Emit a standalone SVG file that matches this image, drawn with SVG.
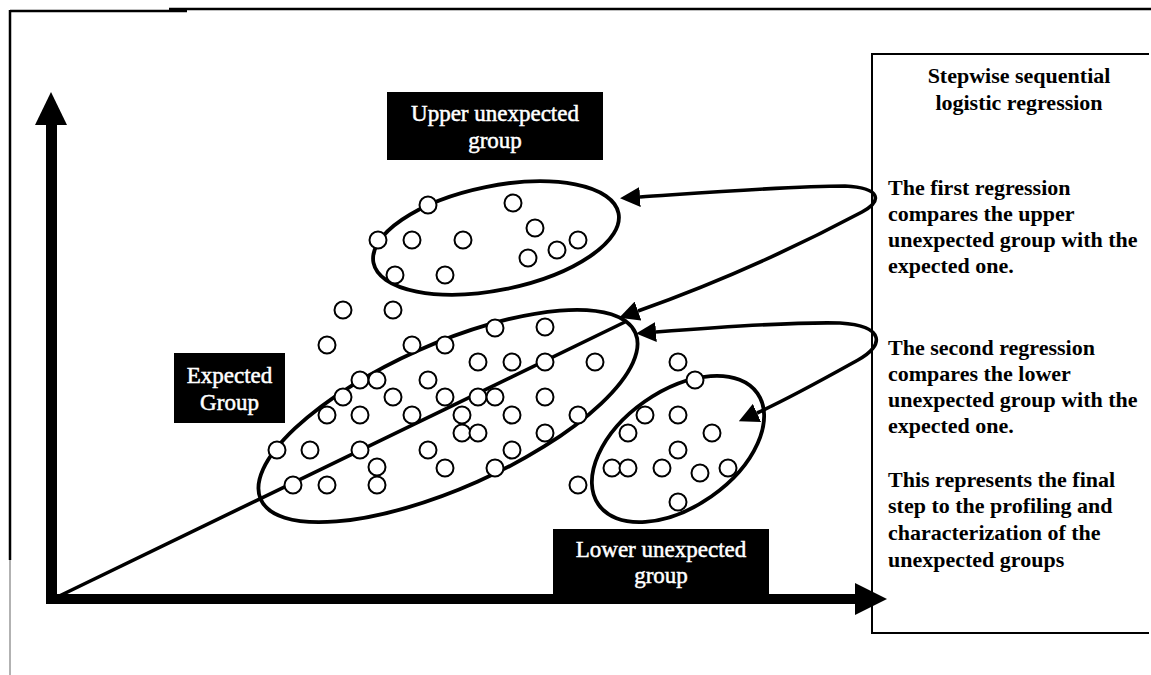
<svg xmlns="http://www.w3.org/2000/svg" width="1151" height="675" viewBox="0 0 1151 675">
<style>
.frame{stroke:#000;stroke-width:2.5;fill:none}
.pt{fill:#fff;stroke:#000;stroke-width:2}
.grp{fill:none;stroke:#000;stroke-width:3.8}
.conn{fill:none;stroke:#000;stroke-width:3.6}
.lbl{fill:#fff;stroke:#fff;stroke-width:0.5;font-family:"Liberation Serif",serif;font-size:23px;text-anchor:middle}
.box{fill:#000}
.ptxt{fill:#000;font-family:"Liberation Serif",serif;font-weight:bold;font-size:22px}
</style>
<defs>
<marker id="ah" markerUnits="userSpaceOnUse" viewBox="0 0 20 20" refX="0" refY="10" markerWidth="20" markerHeight="20" orient="auto-start-reverse">
<path d="M0,0 L20,10 L0,20 z" fill="#000"/>
</marker>
</defs>
<rect width="1151" height="675" fill="#fff"/>
<g id="frame">
<line class="frame" x1="10" y1="11" x2="187" y2="11"/>
<line class="frame" x1="169" y1="9" x2="1151" y2="9"/>
<line class="frame" x1="10" y1="10" x2="10" y2="560"/>
<line x1="10" y1="560" x2="10" y2="675" stroke="#999" stroke-width="1.5"/>
</g>
<g id="axes">
<rect x="46" y="124" width="11" height="480" fill="#000"/>
<polygon points="51,92 35,125 67,125" fill="#000"/>
<rect x="46" y="594" width="811" height="10" fill="#000"/>
<polygon points="855,583 887,599 855,615" fill="#000"/>
<line x1="51" y1="600" x2="627" y2="321" stroke="#000" stroke-width="3.6"/>
</g>
<g id="upper-group">
<ellipse class="grp" cx="496" cy="238" rx="125" ry="52" transform="rotate(-11.5 496 238)"/>
<circle class="pt" cx="428" cy="205" r="8.5"/><circle class="pt" cx="378" cy="240" r="8.5"/><circle class="pt" cx="412" cy="240" r="8.5"/><circle class="pt" cx="463" cy="240" r="8.5"/><circle class="pt" cx="513" cy="203" r="8.5"/><circle class="pt" cx="535" cy="228" r="8.5"/><circle class="pt" cx="528" cy="258" r="8.5"/><circle class="pt" cx="557" cy="250" r="8.5"/><circle class="pt" cx="578" cy="240" r="8.5"/><circle class="pt" cx="395" cy="275" r="8.5"/><circle class="pt" cx="445" cy="275" r="8.5"/>
</g>
<g id="expected-group">
<ellipse class="grp" cx="448" cy="416" rx="205" ry="72" transform="rotate(-24 448 416)"/>
<circle class="pt" cx="343" cy="310" r="8.5"/><circle class="pt" cx="393" cy="310" r="8.5"/><circle class="pt" cx="327" cy="345" r="8.5"/><circle class="pt" cx="412" cy="345" r="8.5"/><circle class="pt" cx="445" cy="345" r="8.5"/><circle class="pt" cx="495" cy="328" r="8.5"/><circle class="pt" cx="545" cy="327" r="8.5"/><circle class="pt" cx="478" cy="362" r="8.5"/><circle class="pt" cx="512" cy="362" r="8.5"/><circle class="pt" cx="545" cy="362" r="8.5"/><circle class="pt" cx="595" cy="362" r="8.5"/><circle class="pt" cx="360" cy="380" r="8.5"/><circle class="pt" cx="377" cy="380" r="8.5"/><circle class="pt" cx="428" cy="380" r="8.5"/><circle class="pt" cx="343" cy="397" r="8.5"/><circle class="pt" cx="393" cy="397" r="8.5"/><circle class="pt" cx="445" cy="397" r="8.5"/><circle class="pt" cx="478" cy="397" r="8.5"/><circle class="pt" cx="495" cy="397" r="8.5"/><circle class="pt" cx="545" cy="397" r="8.5"/><circle class="pt" cx="327" cy="415" r="8.5"/><circle class="pt" cx="360" cy="415" r="8.5"/><circle class="pt" cx="412" cy="415" r="8.5"/><circle class="pt" cx="462" cy="415" r="8.5"/><circle class="pt" cx="512" cy="415" r="8.5"/><circle class="pt" cx="578" cy="415" r="8.5"/><circle class="pt" cx="462" cy="433" r="8.5"/><circle class="pt" cx="478" cy="433" r="8.5"/><circle class="pt" cx="545" cy="433" r="8.5"/><circle class="pt" cx="277" cy="450" r="8.5"/><circle class="pt" cx="310" cy="450" r="8.5"/><circle class="pt" cx="360" cy="450" r="8.5"/><circle class="pt" cx="428" cy="450" r="8.5"/><circle class="pt" cx="512" cy="450" r="8.5"/><circle class="pt" cx="377" cy="467" r="8.5"/><circle class="pt" cx="445" cy="468" r="8.5"/><circle class="pt" cx="495" cy="468" r="8.5"/><circle class="pt" cx="293" cy="485" r="8.5"/><circle class="pt" cx="327" cy="485" r="8.5"/><circle class="pt" cx="377" cy="485" r="8.5"/><circle class="pt" cx="578" cy="485" r="8.5"/>
</g>
<g id="lower-group">
<ellipse class="grp" cx="678" cy="449" rx="97" ry="58" transform="rotate(-35 678 449)"/>
<circle class="pt" cx="678" cy="362" r="8.5"/><circle class="pt" cx="695" cy="380" r="8.5"/><circle class="pt" cx="645" cy="415" r="8.5"/><circle class="pt" cx="678" cy="415" r="8.5"/><circle class="pt" cx="628" cy="433" r="8.5"/><circle class="pt" cx="712" cy="433" r="8.5"/><circle class="pt" cx="678" cy="450" r="8.5"/><circle class="pt" cx="612" cy="468" r="8.5"/><circle class="pt" cx="628" cy="468" r="8.5"/><circle class="pt" cx="662" cy="468" r="8.5"/><circle class="pt" cx="700" cy="473" r="8.5"/><circle class="pt" cx="728" cy="468" r="8.5"/><circle class="pt" cx="678" cy="502" r="8.5"/>
</g>
<g id="label-upper">
<rect class="box" x="387" y="92" width="216" height="68"/>
<text class="lbl" x="495" y="121">Upper unexpected</text>
<text class="lbl" x="495" y="148">group</text>
</g>
<g id="label-expected">
<rect class="box" x="174" y="353" width="111" height="70"/>
<text class="lbl" x="229.5" y="383">Expected</text>
<text class="lbl" x="229.5" y="410">Group</text>
</g>
<g id="label-lower">
<rect class="box" x="553" y="529" width="216" height="70"/>
<text class="lbl" x="661" y="557">Lower unexpected</text>
<text class="lbl" x="661" y="583">group</text>
</g>
<g id="connectors">
<path class="conn" d="M640,197 C700,193 790,186 845,186 C882,188 882,201 862,212 C800,245 720,282 638,311" marker-start="url(#ah)" marker-end="url(#ah)"/>
<path class="conn" d="M656,332 C720,327 800,322 840,323 C886,326 884,346 858,360 C822,380 790,398 757,413" marker-start="url(#ah)" marker-end="url(#ah)"/>
</g>
<g id="panel">
<path d="M1149,54 L872,54 L872,633 L1149,633" fill="none" stroke="#000" stroke-width="2"/>
<text class="ptxt" x="1019" y="83" text-anchor="middle" font-size="21">Stepwise sequential</text>
<text class="ptxt" x="1019" y="110" text-anchor="middle" font-size="21">logistic regression</text>
<text class="ptxt" x="888" y="195">The first regression</text>
<text class="ptxt" x="888" y="221">compares the upper</text>
<text class="ptxt" x="888" y="247">unexpected group with the</text>
<text class="ptxt" x="888" y="273">expected one.</text>
<text class="ptxt" x="888" y="355">The second regression</text>
<text class="ptxt" x="888" y="381">compares the lower</text>
<text class="ptxt" x="888" y="407">unexpected group with the</text>
<text class="ptxt" x="888" y="433">expected one.</text>
<text class="ptxt" x="888" y="487">This represents the final</text>
<text class="ptxt" x="888" y="513">step to the profiling and</text>
<text class="ptxt" x="888" y="540">characterization of the</text>
<text class="ptxt" x="888" y="567">unexpected groups</text>
</g>
</svg>
